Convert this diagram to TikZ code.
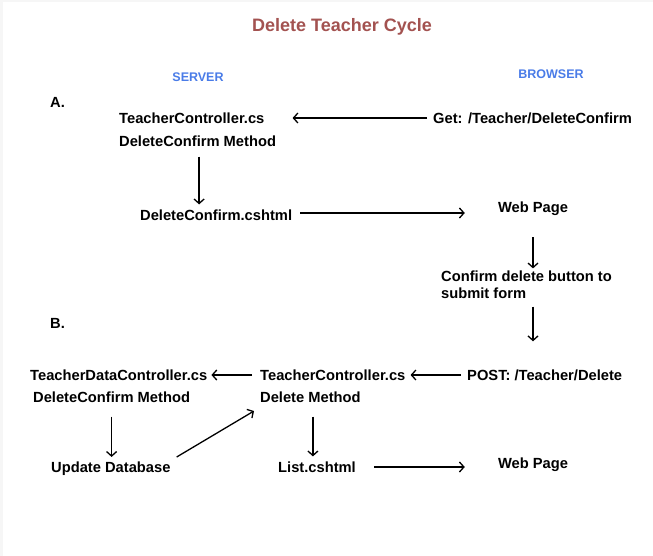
\documentclass[tikz,border=0pt]{standalone}
\usepackage{fontspec}
\setmainfont{Liberation Sans}
\usetikzlibrary{arrows.meta,calc}
\definecolor{titlered}{RGB}{163,82,80}
\definecolor{headblue}{RGB}{74,124,232}
\begin{document}
\begin{tikzpicture}[x=1pt,y=-1pt,
  lbl/.style={inner sep=0pt,anchor=west,font=\fontsize{14.7}{17}\selectfont\bfseries},
  head/.style={inner sep=0pt,font=\fontsize{12.5}{15}\selectfont\bfseries,text=headblue},
  arr/.style={line width=1.3pt,-{Straight Barb[length=4.5pt,width=10pt,line join=miter]}}]
\fill[gray!7] (0,0) rectangle (653,556);
\fill[white] (3,2) rectangle (653,556);
\useasboundingbox (0,0) rectangle (653,556);
\node[inner sep=0pt,font=\fontsize{18}{21}\selectfont\bfseries,text=titlered] (title) at (342,27) {Delete Teacher Cycle};
\node[head] (server) at (198,77) {SERVER};
\node[head] (browser) at (551,74) {BROWSER};
\node[lbl] (A) at (50,102) {A.};
\node[lbl] (tc1) at (119,118) {TeacherController.cs};
\node[lbl] (dcm1) at (119,141) {DeleteConfirm Method};
\node[lbl] (get) at (433,118) {Get: /Teacher/DeleteConfirm};
\node[lbl] (cshtml) at (140,215) {DeleteConfirm.cshtml};
\node[lbl,anchor=center] (wp1) at (533,209) {Web Page};
\node[lbl,align=left] (confirm) at (441,284.5) {Confirm delete button to\\submit form};
\node[lbl] (B) at (50,323) {B.};
\node[lbl] (tdc) at (30,375) {TeacherDataController.cs};
\node[lbl] (dcm2) at (33,397) {DeleteConfirm Method};
\node[lbl] (tc2) at (260,375) {TeacherController.cs};
\node[lbl] (dm2) at (260,397) {Delete Method};
\node[lbl] (post) at (467,375) {POST: /Teacher/Delete};
\node[lbl] (upd) at (51,469) {Update Database};
\node[lbl] (list) at (278,467) {List.cshtml};
\node[lbl,anchor=center] (wp2) at (533,465) {Web Page};
% part A
\draw[arr] ([xshift=-6pt]get.west) -- ([xshift=28pt]tc1.east);
\draw[arr] ([xshift=1.5pt,yshift=-10pt]dcm1.south) -- ([xshift=1.5pt,yshift=5pt]dcm1.south |- cshtml.north);
\draw[arr] ([xshift=8pt,yshift=2pt]cshtml.east) -- ([xshift=-33pt,yshift=2pt]cshtml.east -| wp1.west);
\draw[arr] ([yshift=-21pt]wp1.south) -- ([yshift=2pt]wp1.south |- confirm.north);
\draw[arr] ([yshift=-8pt]wp1.south |- confirm.south) -- ([yshift=28pt]wp1.south |- post.north);
% part B
\draw[arr] ([xshift=-6pt]post.west) -- ([xshift=5pt]tc2.east);
\draw[arr] ([xshift=-8pt]tc2.west) -- ([xshift=4pt]tdc.east);
\draw[arr] ([yshift=-14pt]dcm2.south) -- ([yshift=5pt]dcm2.south |- upd.north);
\draw[arr] ([shift={(6,-12)}]upd.east) -- ([shift={(-6,14)}]dm2.west);
\draw[arr] ([xshift=2.5pt,yshift=-14pt]dm2.south) -- ([xshift=2.5pt,yshift=5pt]dm2.south |- list.north);
\draw[arr] ([xshift=18pt]list.east) -- ([xshift=-33pt]list.east -| wp2.west);
\end{tikzpicture}
\end{document}
